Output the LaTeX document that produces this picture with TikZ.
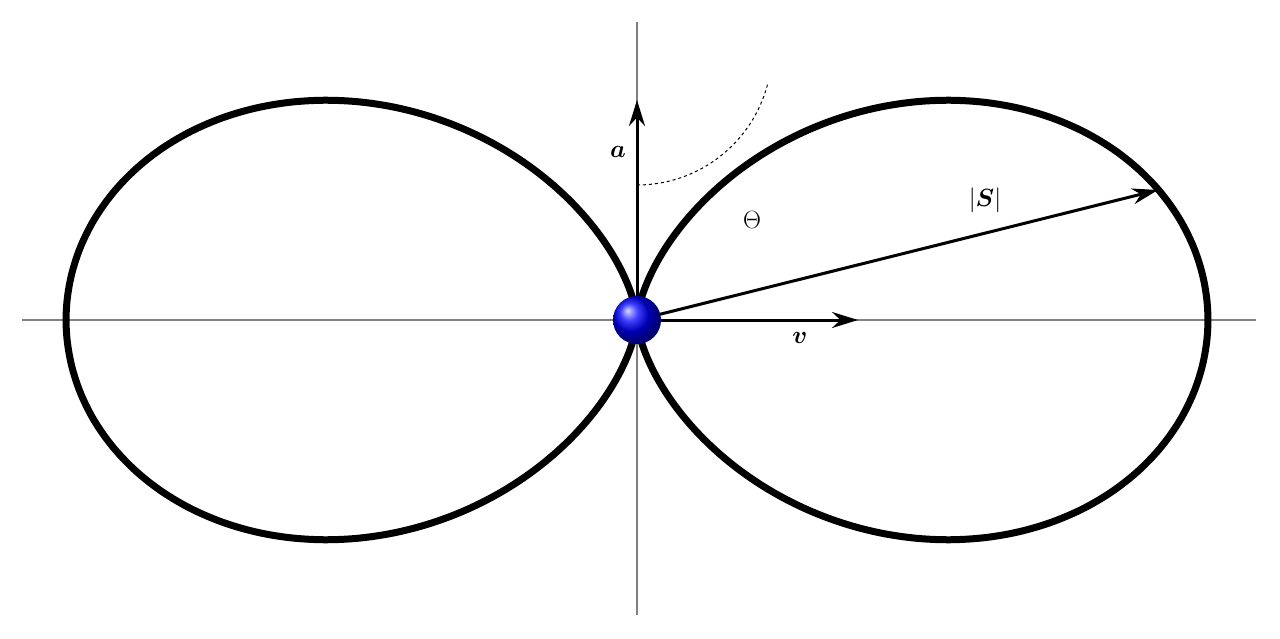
\documentclass[tikz,border=0pt]{standalone}
\usepackage{amsmath,bm}
\usetikzlibrary{arrows.meta}
\begin{document}
\begin{tikzpicture}[x=1pt,y=-1pt,
  axis/.style={gray,line width=1.2pt},
  lobe/.style={line width=7pt,line join=round},
  vec/.style={line width=3pt,-{Stealth[length=26pt,width=16pt]}},
  lab/.style={font=\fontsize{34}{40}\selectfont}]
\useasboundingbox (0,0) rectangle (1280,639);
\draw[axis] (22,320) -- (1256,320);
\draw[axis] (637,22) -- (637,615);
\draw[lobe] plot[domain=0:180,samples=240,smooth,variable=\t] ({637+571*sin(\t)^3},{320-571*sin(\t)^2*cos(\t)});
\draw[lobe] plot[domain=0:180,samples=240,smooth,variable=\t] ({637-571*sin(\t)^3},{320-571*sin(\t)^2*cos(\t)});
\coordinate (O) at (637,320);
\coordinate (A) at (637,100);
\coordinate (V) at (858,320);
\coordinate (S) at (1158,190);
\draw[dashed,line width=1pt] (637,185) arc[start angle=90,end angle=14,radius=135];
\draw[vec] (O) -- (A);
\draw[vec] (O) -- (V);
\draw[vec] (O) -- (S);
\shade[ball color=blue] (O) circle[radius=24];
\node[lab] (la) at (618,152) {$\bm{a}$};
\node[lab] (lv) at (800,338) {$\bm{v}$};
\node[lab] (lt) at (752,220) {\fontsize{28}{32}\selectfont$\Theta$};
\node[lab] (ls) at (985,200) {$|\bm{S}|$};
\end{tikzpicture}
\end{document}
